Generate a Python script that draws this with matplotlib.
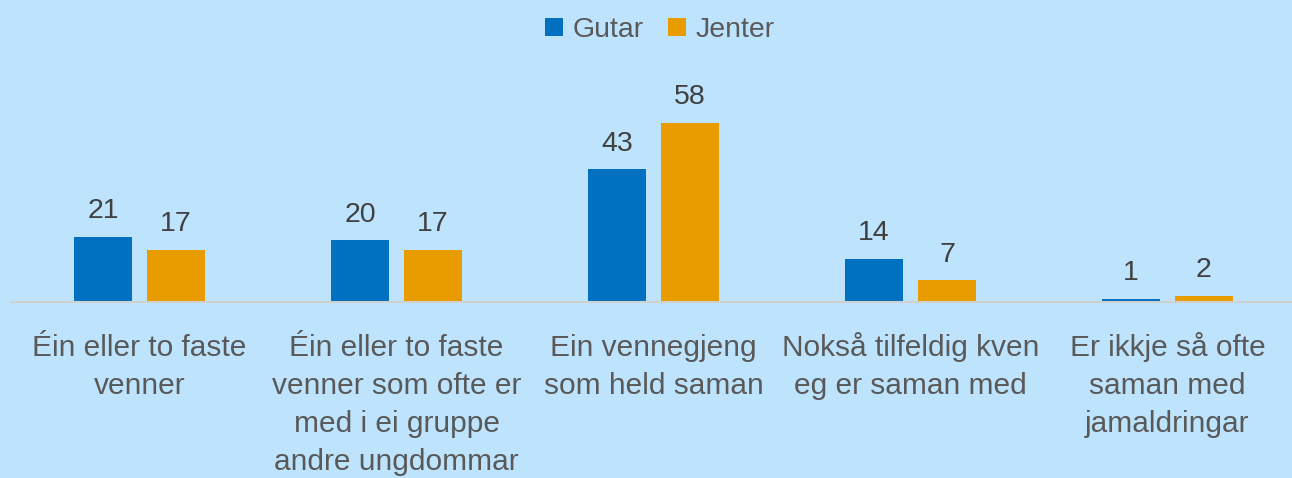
import matplotlib.pyplot as plt
import numpy as np

categories = ["Éin eller to faste\nvenner",
              "Éin eller to faste\nvenner som ofte er\nmed i ei gruppe\nandre ungdommar",
              "Ein vennegjeng\nsom held saman",
              "Nokså tilfeldig kven\neg er saman med",
              "Er ikkje så ofte\nsaman med\njamaldringar"]
gutar = [21, 20, 43, 14, 1]
jenter = [17, 17, 58, 7, 2]

bg = "#BEE4FD"
blue = "#0070C0"
orange = "#E89C00"

plt.rcParams['font.family'] = ['Liberation Sans', 'DejaVu Sans']

fig = plt.figure(figsize=(12.92, 4.78), dpi=100, facecolor=bg)
ax = fig.add_axes([11 / 1292, 176 / 478, 1285 / 1292, 216 / 478])
ax.set_facecolor(bg)

x = np.arange(len(categories))
w = 0.226
off = 0.142
b1 = ax.bar(x - off, gutar, w, color=blue, label="Gutar")
b2 = ax.bar(x + off, jenter, w, color=orange, label="Jenter")

for bars, vals in ((b1, gutar), (b2, jenter)):
    for r, v in zip(bars, vals):
        ax.annotate(str(v), (r.get_x() + r.get_width() / 2, v), xytext=(0, 13.5),
                    textcoords="offset points", ha="center", va="baseline",
                    fontsize=20.5, color="#404040")

# category labels: one text per line so the first lines share a baseline
line_step = 38 * 0.72  # 38 px between baselines, in points
for xi, lab in zip(x, categories):
    for i, line in enumerate(lab.split("\n")):
        ax.annotate(line, (xi, 0), xycoords=("data", "axes fraction"),
                    xytext=(0, -39 - i * line_step), textcoords="offset points",
                    ha="center", va="baseline", fontsize=21.5, color="#595959",
                    annotation_clip=False)

ax.set_xlim(-0.5, len(categories) - 0.5)
ax.set_ylim(0, 70)
ax.set_yticks([])
ax.set_xticks([])
for s in ("top", "right", "left"):
    ax.spines[s].set_visible(False)
ax.spines["bottom"].set_color("#D0D0D0")
ax.spines["bottom"].set_linewidth(1.5)

leg = fig.legend(loc="upper center", bbox_to_anchor=(0.5108, 1.0), ncol=2, frameon=False,
                 fontsize=20.5, handlelength=0.63, handleheight=0.63, handletextpad=0.32,
                 columnspacing=0.88, borderaxespad=0.2)
for t in leg.get_texts():
    t.set_color("#595959")

fig.savefig("out.png", dpi=100, facecolor=bg)
